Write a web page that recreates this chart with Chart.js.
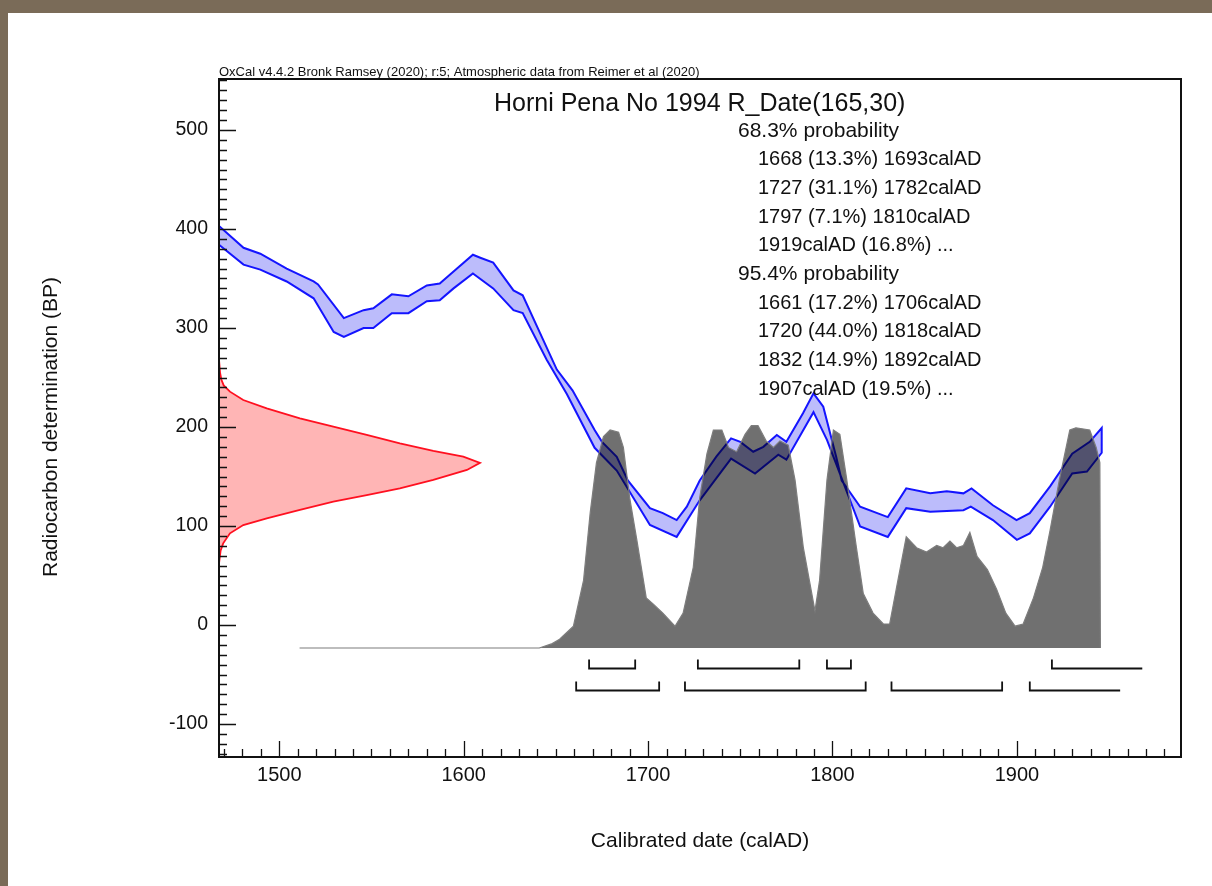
<!DOCTYPE html>
<html><head><meta charset="utf-8">
<script src="https://cdn.jsdelivr.net/npm/chart.js@4.4.1/dist/chart.umd.min.js"></script>
<style>html,body{margin:0;padding:0;background:#fff;}canvas{display:block;}</style>
</head><body>
<canvas id="c" width="1212" height="886"></canvas>
<script>
// ---------- data ----------
const calUpperYears = [1467.3,1480.6,1489.7,1504,1518.6,1521,1535,1545.7,1551,1561,1570,1580,1587,1594.5,1605,1609,1616,1627,1632,1650.5,1659,1671,1675,1683,1689,1701,1708,1715.5,1721,1728,1737,1745,1750,1757,1762.5,1769.8,1775,1784,1789.7,1795,1802,1805,1815,1830,1840,1853,1862,1871,1875.4,1887,1899.8,1907,1918,1930,1939.5,1946];
const calUpperBP    = [403,381,375,360,347,344,310,318,320,334,332,343,345,357,374,371,366,338,333,258,237,197,185,170,146,118,113,106,119.5,146,170,188.5,185,175,180,192,185,214,234,220.5,170,146,119.5,109,138,133,135,133,138,121,106,113,140,173,185,199];
const calLowerYears = [1467.3,1480.6,1489.7,1504,1518.6,1529.5,1535,1545.7,1551,1561,1570,1580,1587,1594.5,1605,1616,1627,1632,1645,1656,1671,1683,1701,1715.5,1728,1745,1758,1770.6,1775,1789.7,1797,1815,1830,1840,1853,1871,1875,1887,1900,1907,1918,1930,1938,1946];
const calLowerBP    = [384,364,359,347,330,296,291,300,300,315,315,327,328,340,355,340,318,315,268,233,179,156,101,89,126,168,153,172,167,215,187,99.5,89,118,114.5,116,119.5,106,86,92.6,119.5,153,155,174];

const probYears  = [1511,1641,1648,1652,1659.5,1665,1668.6,1672,1675.8,1679.4,1684,1686.6,1690,1694,1699,1703,1708,1714.6,1719,1724.5,1728,1731.9,1735.4,1740,1743.6,1748,1752.6,1756,1759.6,1764,1768,1771.5,1776,1779.7,1784.2,1790.5,1793,1797,1800.5,1804,1807.6,1813,1816.7,1822,1827.6,1831,1834.8,1840,1845.6,1851,1856.5,1860,1863.7,1867.3,1871,1874.5,1878.4,1884,1889,1894,1899,1903.4,1909,1914,1918,1923,1928.7,1932,1939.5,1943,1945,1945.3];
const probValues = [0,0,0.02,0.04,0.1,0.31,0.62,0.85,0.97,1.0,0.99,0.92,0.69,0.49,0.23,0.2,0.16,0.1,0.16,0.37,0.69,0.89,1.0,1.0,0.92,0.9,0.98,1.02,1.02,0.95,0.92,0.95,0.93,0.77,0.46,0.17,0.31,0.77,1.0,0.98,0.78,0.46,0.25,0.16,0.11,0.11,0.28,0.51,0.46,0.44,0.47,0.46,0.49,0.46,0.47,0.53,0.42,0.36,0.27,0.16,0.1,0.11,0.23,0.37,0.54,0.77,1.0,1.01,1.0,0.92,0.85,0];

const rdateBP      = [268,255,248,242,235.7,227.3,218.9,208.8,200.3,192,183.5,176,170,163.8,156.6,146.5,138,131.3,124.6,116.2,107.8,101,92.6,82.5,75,62];
const rdateDensity = [0,0.004,0.009,0.018,0.042,0.093,0.183,0.31,0.438,0.566,0.693,0.821,0.936,1.0,0.95,0.821,0.693,0.566,0.438,0.31,0.183,0.093,0.042,0.016,0.006,0];

const range68 = [[1668,1693],[1727,1782],[1797,1810],[1919,1968]];
const range68Open = [false,false,false,true];
const range95 = [[1661,1706],[1720,1818],[1832,1892],[1907,1956]];
const range95Open = [false,false,false,true];

const xTickLabels = [1500,1600,1700,1800,1900];
const yTickLabels = [-100,0,100,200,300,400,500];

const headerText = "OxCal v4.4.2 Bronk Ramsey (2020); r:5; Atmospheric data from Reimer et al (2020)";
const titleText = "Horni Pena No 1994 R_Date(165,30)";
const summaryLines = [
  ["68.3% probability",0],
  ["1668 (13.3%) 1693calAD",1],
  ["1727 (31.1%) 1782calAD",1],
  ["1797 (7.1%) 1810calAD",1],
  ["1919calAD (16.8%) ...",1],
  ["95.4% probability",0],
  ["1661 (17.2%) 1706calAD",1],
  ["1720 (44.0%) 1818calAD",1],
  ["1832 (14.9%) 1892calAD",1],
  ["1907calAD (19.5%) ...",1]
];
const xTitle = "Calibrated date (calAD)";
const yTitle = "Radiocarbon determination (BP)";

// ---------- build ----------
const FONT = "'Liberation Sans', Arial, sans-serif";
const bandPoints = calUpperYears.map((x,i)=>({x, y: calUpperBP[i]}))
  .concat(calLowerYears.map((x,i)=>({x, y: calLowerBP[i]})).reverse());
const probPoints = probYears.map((x,i)=>({x, y: probValues[i]}));
const rdatePoints = rdateBP.map((y,i)=>({x: rdateDensity[i], y}));

const decorPlugin = {
  id: 'decor',
  beforeDraw(chart) {
    const ctx = chart.ctx;
    ctx.save();
    ctx.fillStyle = '#ffffff';
    ctx.fillRect(0,0,chart.width,chart.height);
    ctx.fillStyle = '#7a6b58';
    ctx.fillRect(0,0,chart.width,13);
    ctx.fillRect(0,0,8,chart.height);
    ctx.restore();
  },
  afterDraw(chart) {
    const ctx = chart.ctx, a = chart.chartArea;
    const xs = chart.scales.x, ys = chart.scales.y, yp = chart.scales.yProb;
    ctx.save();
    // minor / major ticks pointing inward
    ctx.strokeStyle = '#111';
    ctx.lineWidth = 1.3;
    ctx.beginPath();
    for (let v = Math.ceil(xs.min/10)*10; v <= xs.max; v += 10) {
      const px = Math.round(xs.getPixelForValue(v)) + 0.5;
      const len = (v % 100 === 0) ? 16 : 8;
      ctx.moveTo(px, a.bottom); ctx.lineTo(px, a.bottom - len);
    }
    for (let v = Math.ceil(ys.min/10)*10; v <= ys.max; v += 10) {
      const py = Math.round(ys.getPixelForValue(v)) + 0.5;
      const len = (v % 100 === 0) ? 17 : 8;
      ctx.moveTo(a.left, py); ctx.lineTo(a.left + len, py);
    }
    ctx.stroke();
    // frame
    ctx.lineWidth = 2;
    ctx.strokeRect(a.left, a.top, a.right - a.left, a.bottom - a.top);

    // range brackets
    const base = yp.getPixelForValue(0);
    const drawRow = (ranges, open, dy) => {
      const y = Math.round(base + dy) + 0.5;
      ctx.beginPath();
      ranges.forEach((r,i) => {
        const x1 = xs.getPixelForValue(r[0]), x2 = xs.getPixelForValue(r[1]);
        ctx.moveTo(x1, y - 9); ctx.lineTo(x1, y); ctx.lineTo(x2, y);
        if (!open[i]) ctx.lineTo(x2, y - 9);
      });
      ctx.stroke();
    };
    ctx.lineWidth = 1.8;
    ctx.strokeStyle = '#111';
    drawRow(range68, range68Open, 20);
    drawRow(range95, range95Open, 42);

    // texts
    ctx.fillStyle = '#111';
    ctx.textBaseline = 'alphabetic';
    ctx.textAlign = 'left';
    ctx.font = '13px ' + FONT;
    ctx.fillText(headerText, a.left, a.top - 3);
    ctx.font = '25px ' + FONT;
    ctx.textBaseline = 'middle';
    ctx.fillText(titleText, 494, 104);
    summaryLines.forEach((l,i) => {
      ctx.font = (l[1] ? '20px ' : '21px ') + FONT;
      ctx.fillText(l[0], l[1] ? 758 : 738, 131 + i*28.7);
    });
    // y axis title
    ctx.save();
    ctx.translate(51, 427);
    ctx.rotate(-Math.PI/2);
    ctx.textAlign = 'center';
    ctx.font = '21px ' + FONT;
    ctx.fillText(yTitle, 0, 0);
    ctx.restore();
    ctx.restore();
  }
};

new Chart(document.getElementById('c'), {
  type: 'line',
  data: {
    datasets: [
      { label: 'posterior', data: probPoints, xAxisID: 'x', yAxisID: 'yProb',
        borderColor: 'rgb(125,125,125)', borderWidth: 1.2,
        backgroundColor: 'rgba(0,0,0,0.56)', fill: 'origin', pointRadius: 0, tension: 0, order: 0 },
      { label: 'calibration', data: bandPoints, xAxisID: 'x', yAxisID: 'y',
        borderColor: '#1414ff', borderWidth: 2,
        backgroundColor: 'rgba(70,70,245,0.36)', fill: 'shape', pointRadius: 0, tension: 0, order: 1 },
      { label: 'rdate', data: rdatePoints, xAxisID: 'xRed', yAxisID: 'y',
        borderColor: '#ff1020', borderWidth: 1.8,
        backgroundColor: 'rgba(255,60,60,0.38)', fill: 'shape', pointRadius: 0, tension: 0, order: 2 }
    ]
  },
  options: {
    responsive: false,
    animation: false,
    devicePixelRatio: 1,
    layout: { padding: { top: 79, right: 31, left: 0, bottom: 0 } },
    plugins: { legend: { display: false }, tooltip: { enabled: false } },
    scales: {
      x: {
        type: 'linear', position: 'bottom', min: 1467.3, max: 1989,
        grid: { display: false, drawTicks: false }, border: { display: false },
        afterFit: s => { s.height = 129; },
        afterBuildTicks: s => { s.ticks = xTickLabels.map(v => ({ value: v })); },
        ticks: { autoSkip: false, maxRotation: 0, padding: 6, color: '#111',
                 font: { family: FONT, size: 20 }, callback: v => String(v) },
        title: { display: true, text: xTitle, color: '#111', font: { family: FONT, size: 21 },
                 padding: { top: 0, bottom: 32 } }
      },
      y: {
        type: 'linear', position: 'left', min: -133.3, max: 551.5,
        grid: { display: false, drawTicks: false }, border: { display: false },
        afterFit: s => { s.width = 219; },
        afterBuildTicks: s => { s.ticks = yTickLabels.map(v => ({ value: v })); },
        ticks: { autoSkip: false, padding: 11, color: '#111',
                 font: { family: FONT, size: 19.5 }, callback: v => String(v) }
      },
      xRed: { type: 'linear', display: false, min: 0, max: 3.686 },
      yProb: { type: 'linear', display: false, min: -0.5, max: 2.61 }
    }
  },
  plugins: [decorPlugin]
});
</script>
</body></html>
